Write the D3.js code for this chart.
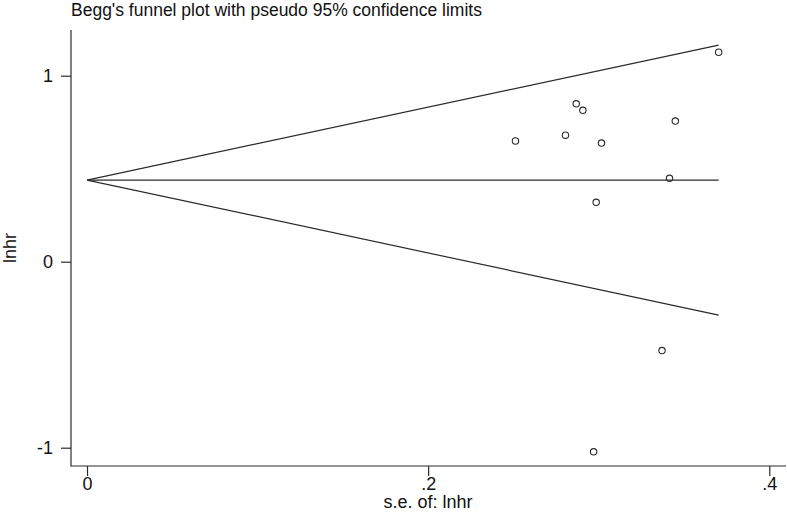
<!DOCTYPE html>
<html>
<head>
<meta charset="utf-8">
<script src="https://cdn.jsdelivr.net/npm/d3@7"></script>
<style>
  html, body { margin: 0; padding: 0; background: #fff; }
  svg { display: block; font-family: "Liberation Sans", Arial, sans-serif; }
</style>
</head>
<body>
<svg id="chart" width="787" height="512"></svg>
<script>
// Data
const titleText = "Begg's funnel plot with pseudo 95% confidence limits";
const xLabel = "s.e. of: lnhr";
const yLabel = "lnhr";
const seValues  = [0.3703, 0.2868, 0.2907, 0.2512, 0.2805, 0.3016, 0.3449, 0.3415, 0.2985, 0.3371, 0.2970];
const lnhrValues = [1.126, 0.849, 0.814, 0.649, 0.680, 0.638, 0.756, 0.448, 0.319, -0.478, -1.022];
const pooledEffect = 0.439;
const xTicks = [0, 0.2, 0.4];
const xTickLabels = ["0", ".2", ".4"];
const yTicks = [-1, 0, 1];
const yTickLabels = ["-1", "0", "1"];

const svg = d3.select("#chart");
const ink = "#2b2b2b";

const x = d3.scaleLinear().domain([0, 0.4]).range([87, 769.3]);
const y = d3.scaleLinear().domain([-1, 1]).range([447.7, 75.7]);

const axisX0 = 71, axisY0 = 466;

// axes lines
svg.append("line").attr("x1", axisX0).attr("x2", axisX0).attr("y1", 30).attr("y2", axisY0 + 0.5)
  .attr("stroke", ink).attr("stroke-width", 1.2);
svg.append("line").attr("x1", axisX0).attr("x2", 786).attr("y1", axisY0).attr("y2", axisY0)
  .attr("stroke", ink).attr("stroke-width", 1.2);

// y axis ticks
const yAxis = d3.axisLeft(y).tickValues(yTicks).tickSize(10).tickPadding(8)
  .tickFormat((d, i) => yTickLabels[i]);
const gy = svg.append("g").attr("transform", `translate(${axisX0},0)`).call(yAxis);
gy.select(".domain").remove();
gy.selectAll("line").attr("stroke", ink).attr("stroke-width", 1.2);
gy.selectAll("text").attr("font-size", 18).attr("fill", "#111")
  .attr("font-family", "'Liberation Sans', Arial, sans-serif");

// x axis ticks
const xAxis = d3.axisBottom(x).tickValues(xTicks).tickSize(10).tickPadding(1)
  .tickFormat((d, i) => xTickLabels[i]);
const gx = svg.append("g").attr("transform", `translate(0,${axisY0})`).call(xAxis);
gx.select(".domain").remove();
gx.selectAll("line").attr("stroke", ink).attr("stroke-width", 1.2);
gx.selectAll("text").attr("font-size", 18).attr("fill", "#111")
  .attr("font-family", "'Liberation Sans', Arial, sans-serif");

// funnel lines
const maxSe = d3.max(seValues);
const lines = [
  [[0, pooledEffect], [maxSe, pooledEffect + 1.96 * maxSe]],
  [[0, pooledEffect], [maxSe, pooledEffect]],
  [[0, pooledEffect], [maxSe, pooledEffect - 1.96 * maxSe]]
];
const lineGen = d3.line().x(d => x(d[0])).y(d => y(d[1]));
svg.append("g").selectAll("path").data(lines).join("path")
  .attr("d", lineGen).attr("fill", "none").attr("stroke", ink).attr("stroke-width", 1.2);

// points
svg.append("g").selectAll("circle").data(seValues).join("circle")
  .attr("cx", d => x(d)).attr("cy", (d, i) => y(lnhrValues[i])).attr("r", 3.2)
  .attr("fill", "none").attr("stroke", ink).attr("stroke-width", 1.1);

// title
svg.append("text").attr("x", 71).attr("y", 16).attr("font-size", 17.5).attr("fill", "#111")
  .text(titleText);

// axis titles
svg.append("text").attr("x", 428).attr("y", 508).attr("text-anchor", "middle")
  .attr("font-size", 18).attr("fill", "#111").text(xLabel);
svg.append("text").attr("transform", "translate(16,248) rotate(-90)").attr("text-anchor", "middle")
  .attr("font-size", 18).attr("fill", "#111").text(yLabel);
</script>
</body>
</html>
